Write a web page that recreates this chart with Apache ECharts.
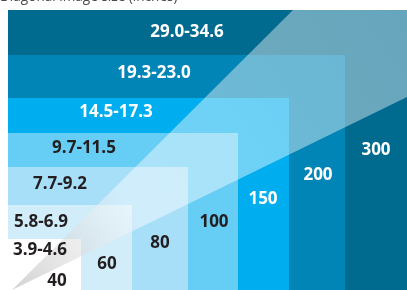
<!DOCTYPE html>
<html>
<head>
<meta charset="utf-8">
<script src="https://cdn.jsdelivr.net/npm/echarts@6/dist/echarts.min.js"></script>
<style>
  html, body { margin: 0; padding: 0; background: #ffffff; }
  #chart { width: 407px; height: 290px; }
</style>
</head>
<body>
<div id="chart"></div>
<script>
// display sizes, largest first so smaller boxes sit on top
var sizes = [300, 200, 150, 100, 80, 60, 40];
var ranges = ['29.0-34.6', '19.3-23.0', '14.5-17.3', '9.7-11.5', '7.7-9.2', '5.8-6.9', '3.9-4.6'];
var boxWidth = [399, 337, 281, 230, 180, 124, 73];
var boxHeight = [280, 235, 192, 157, 123, 85, 51];

// styling / layout (not data)
var boxColors = ['#006a8f', '#0085b6', '#00aeef', '#66cdf5', '#a8dff8', '#d2edfa', '#ffffff'];
var rangePos = [[179, 258], [146, 217], [108, 178], [76, 142], [52, 106], [33, 68], [32, 40]];
var sizePos = [[368, 140], [310, 115], [255, 91], [206, 68], [152, 47], [99, 26], [49, 9]];
var whiteText = [true, true, true, false, false, false, false];
var whiteSize = [true, true, true, false, false, false, false];

var font = '"Open Sans", "Noto Sans", sans-serif';

var chart = echarts.init(document.getElementById('chart'));

var option = {
  backgroundColor: '#ffffff',
  animation: false,
  grid: { left: 8, right: 0, top: 10, bottom: 0 },
  xAxis: { type: 'value', min: 0, max: 399, show: false },
  yAxis: { type: 'value', min: 0, max: 280, show: false },
  graphic: [{
    type: 'text',
    left: 0,
    top: -10,
    style: { text: 'Diagonal image size (inches)', fill: '#4a4a4a', font: '13.6px ' + font }
  }],
  series: [
    {
      type: 'custom',
      z: 1,
      data: sizes.map(function (s, i) { return [i, boxWidth[i], boxHeight[i]]; }),
      renderItem: function (params, api) {
        var i = api.value(0);
        var p0 = api.coord([0, 0]);
        var p1 = api.coord([api.value(1), api.value(2)]);
        return {
          type: 'rect',
          shape: { x: p0[0], y: p1[1], width: p1[0] - p0[0], height: p0[1] - p1[1] },
          style: { fill: boxColors[i] }
        };
      }
    },
    {
      // translucent light wedge
      type: 'custom',
      z: 2,
      data: [[0]],
      renderItem: function (params, api) {
        var pts = [[4, 0], [285, 280], [399, 280], [399, 193]].map(function (p) { return api.coord(p); });
        return {
          type: 'polygon',
          shape: { points: pts },
          style: {
            fill: new echarts.graphic.LinearGradient(0, 1, 1, 0, [
              { offset: 0, color: 'rgba(175,175,175,0.55)' },
              { offset: 0.3, color: 'rgba(255,255,255,0.45)' },
              { offset: 1, color: 'rgba(255,255,255,0.4)' }
            ])
          }
        };
      }
    },
    {
      type: 'custom',
      z: 3,
      data: sizes.map(function (s, i) { return [i, s]; }),
      renderItem: function (params, api) {
        var i = api.value(0);
        var rp = api.coord(rangePos[i]);
        var sp = api.coord(sizePos[i]);
        return {
          type: 'group',
          children: [
            {
              type: 'text',
              x: rp[0], y: rp[1],
              style: {
                text: ranges[i], align: 'center', verticalAlign: 'middle',
                fill: whiteText[i] ? '#ffffff' : '#231f20',
                font: 'bold 17px ' + font
              }
            },
            {
              type: 'text',
              x: sp[0], y: sp[1],
              style: {
                text: String(sizes[i]), align: 'center', verticalAlign: 'middle',
                fill: whiteSize[i] ? '#ffffff' : '#231f20',
                font: 'bold 17px ' + font
              }
            }
          ]
        };
      }
    }
  ]
};

chart.setOption(option);
</script>
</body>
</html>
